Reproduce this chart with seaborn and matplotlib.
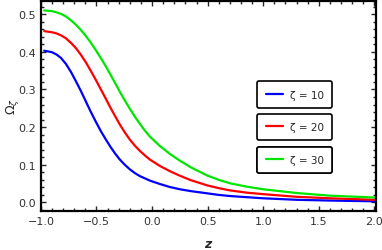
import numpy as np
import pandas as pd
import matplotlib
matplotlib.use('Agg')
import matplotlib.pyplot as plt
import seaborn as sns
from matplotlib.ticker import MultipleLocator
from matplotlib.lines import Line2D

sns.set_style('ticks')
plt.rcParams['font.family'] = ['DejaVu Sans']

# values
z = [-0.97, -0.9, -0.86, -0.82, -0.775, -0.73, -0.685, -0.64, -0.595, -0.55,
     -0.505, -0.46, -0.415, -0.375, -0.33, -0.29, -0.245, -0.2, -0.155, -0.11,
     -0.065, -0.02, 0.07, 0.16, 0.25, 0.35, 0.5, 0.6, 0.7, 0.85, 1.0, 1.3, 1.6, 2.0]
omega_10 = [0.403, 0.399, 0.393, 0.384, 0.368, 0.347, 0.322, 0.296, 0.268, 0.240,
            0.214, 0.189, 0.167, 0.148, 0.129, 0.114, 0.100, 0.088, 0.078, 0.070,
            0.064, 0.058, 0.049, 0.041, 0.035, 0.030, 0.024, 0.020, 0.017, 0.014,
            0.011, 0.007, 0.005, 0.003]
omega_20 = [0.455, 0.452, 0.449, 0.444, 0.436, 0.424, 0.410, 0.392, 0.372, 0.349,
            0.325, 0.300, 0.275, 0.252, 0.228, 0.207, 0.186, 0.167, 0.151, 0.137,
            0.125, 0.114, 0.097, 0.083, 0.071, 0.059, 0.045, 0.038, 0.032, 0.026,
            0.022, 0.015, 0.011, 0.007]
omega_30 = [0.510, 0.508, 0.505, 0.501, 0.494, 0.484, 0.472, 0.458, 0.442, 0.424,
            0.404, 0.383, 0.361, 0.340, 0.316, 0.294, 0.271, 0.249, 0.228, 0.209,
            0.191, 0.175, 0.150, 0.129, 0.111, 0.093, 0.071, 0.060, 0.051, 0.042,
            0.035, 0.025, 0.018, 0.013]
zeta_labels = ['ζ = 10', 'ζ = 20', 'ζ = 30']
colors = ['#0000ff', '#ff0000', '#00e600']

df = pd.concat([
    pd.DataFrame({'z': z, 'omega': vals, 'zeta': lab})
    for vals, lab in zip([omega_10, omega_20, omega_30], zeta_labels)
])

fig = plt.figure(figsize=(3.82, 2.51), dpi=100)
ax = fig.add_axes([0.107, 0.155, 0.876, 0.837])

sns.lineplot(data=df, x='z', y='omega', hue='zeta', palette=colors,
             linewidth=1.6, ax=ax, legend=False, sort=False)

ax.set_xlim(-1.0, 2.01)
ax.set_ylim(-0.023, 0.535)
ax.xaxis.set_major_locator(MultipleLocator(0.5))
ax.xaxis.set_minor_locator(MultipleLocator(0.1))
ax.yaxis.set_major_locator(MultipleLocator(0.1))
ax.yaxis.set_minor_locator(MultipleLocator(0.02))
ax.tick_params(which='both', direction='in', top=True, right=True,
               labelsize=8, labelcolor='#333333', width=1)
ax.tick_params(which='major', length=3.5)
ax.tick_params(which='minor', length=2)
ax.xaxis.set_major_formatter(plt.FuncFormatter(
    lambda v, p: f'{v:.1f}'.replace('-', '−')))
ax.yaxis.set_major_formatter(plt.FuncFormatter(lambda v, p: f'{v:.1f}'))
for s in ax.spines.values():
    s.set_visible(True)
    s.set_linewidth(1.6)
    s.set_color('black')

ax.set_xlabel('z', fontsize=9, fontweight='bold', fontstyle='italic', va='center')
ax.xaxis.set_label_coords(0.5, -0.152)
ax.set_ylabel(r'$\Omega_\zeta$', fontsize=9, va='center')
ax.yaxis.set_label_coords(-0.085, 0.5)

# three separate legend boxes, as in the reference
box_y = [0.554, 0.40, 0.243]
for lab, col, yy in zip(zeta_labels, colors, box_y):
    h = Line2D([], [], color=col, linewidth=1.6)
    leg = ax.legend([h], [lab], loc='center left', bbox_to_anchor=(0.647, yy),
                    fontsize=7.5, frameon=True, fancybox=True, handlelength=1.7,
                    borderpad=0.8, handletextpad=0.6, borderaxespad=0)
    fr = leg.get_frame()
    fr.set_edgecolor('black')
    fr.set_linewidth(1.2)
    fr.set_alpha(1)
    ax.add_artist(leg)

fig.savefig('out.png', dpi=100)
